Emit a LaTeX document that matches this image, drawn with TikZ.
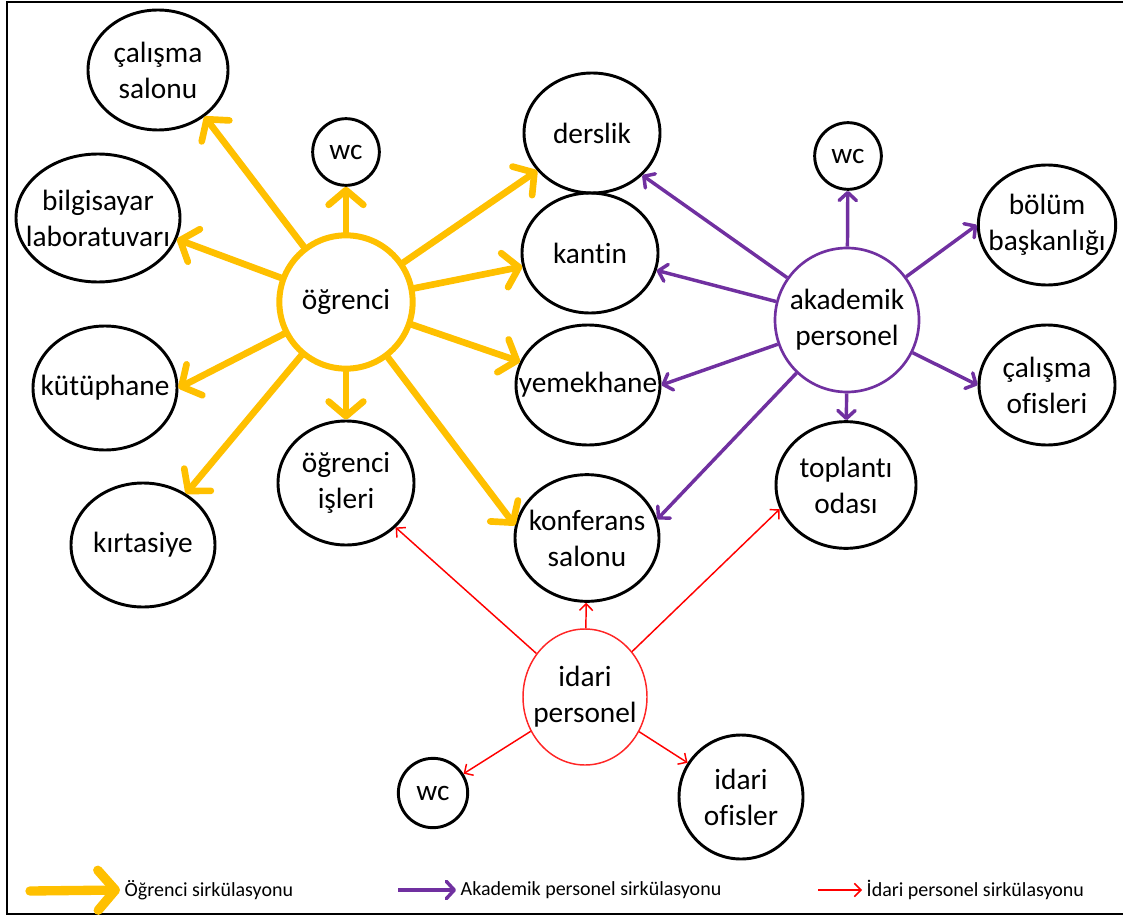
\documentclass[tikz,border=0pt]{standalone}
\usepackage{fontspec}
\setmainfont{Carlito}[Ligatures=NoCommon]
\usepackage{xcolor}
\usepackage{tikz}
\usetikzlibrary{shapes.geometric, arrows.meta, calc}
\definecolor{ogryellow}{RGB}{255,192,0}
\definecolor{akpurple}{RGB}{112,48,160}
\definecolor{idred}{RGB}{255,0,0}

\begin{document}
\begin{tikzpicture}[x=0.75pt, y=-0.75pt,
  place/.style={draw=black, line width=2.2pt, ellipse, inner sep=-14pt, align=center,
    font=\fontsize{22}{27}\selectfont},
  ogrflow/.style={draw=ogryellow, line width=5pt, line cap=round,
    -{Straight Barb[length=11pt, width=26pt, round]}},
  akflow/.style={draw=akpurple, line width=2.6pt,
    -{Straight Barb[length=6pt, width=13pt, round]}},
  idflow/.style={draw=idred, line width=1.1pt,
    -{Straight Barb[length=5pt, width=10pt]}},
  legtext/.style={right, font=\fontsize{15}{17}\selectfont}]
\useasboundingbox (0,0) rectangle (1123,916);
\draw[line width=1.5pt] (1124,2) -- (7,2) -- (7,914) -- (1124,914);

% student side
\node[place, minimum width=105pt, minimum height=90pt] (cs) at (158,70) {çalışma\\salonu};
\node[place, minimum width=50pt, minimum height=50pt] (wc1) at (346,152) {wc};
\node[place, minimum width=123pt, minimum height=96pt] (bilg) at (98,218) {bilgisayar\\laboratuvarı};
\node[place, draw=ogryellow, line width=4.5pt, minimum width=100pt, minimum height=100pt] (ogr) at (346,302) {öğrenci};
\node[place, minimum width=108pt, minimum height=93pt] (kut) at (105,388) {kütüphane};
\node[place, minimum width=108pt, minimum height=93pt] (kirt) at (143,545) {kırtasiye};
\node[place, minimum width=102pt, minimum height=93pt] (ois) at (346,483) {öğrenci\\işleri};

% shared rooms
\node[place, minimum width=102pt, minimum height=90pt] (ders) at (592,133) {derslik};
\node[place, minimum width=102pt, minimum height=90pt] (kant) at (590,253) {kantin};
\node[place, minimum width=108pt, minimum height=90pt] (yem) at (588,385) {yemekhane};
\node[place, minimum width=108pt, minimum height=95pt] (konf) at (587,538) {konferans\\salonu};

% academic side
\node[place, minimum width=50pt, minimum height=50pt] (wc2) at (848,156) {wc};
\node[place, minimum width=103pt, minimum height=90pt] (bolum) at (1047,225) {bölüm\\başkanlığı};
\node[place, draw=akpurple, line width=2pt, minimum width=108pt, minimum height=108pt] (akad) at (847,320) {akademik\\personel};
\node[place, minimum width=102pt, minimum height=90pt] (ofis) at (1047,385) {çalışma\\ofisleri};
\node[place, minimum width=105pt, minimum height=95pt] (topl) at (846,485) {toplantı\\odası};

% administrative side
\node[place, draw=idred!85, line width=1.1pt, minimum width=93pt, minimum height=102pt] (idari) at (585,697) {idari\\personel};
\node[place, minimum width=52pt, minimum height=52pt] (wc3) at (433,793) {wc};
\node[place, minimum width=93pt, minimum height=93pt] (iofis) at (741,797) {idari\\ofisler};

% student flows
\draw[ogrflow] (ogr) -- (cs.-45);
\draw[ogrflow] (ogr) -- (wc1);
\draw[ogrflow] (ogr) -- (bilg.-15);
\draw[ogrflow] (ogr) -- (kut.east);
\draw[ogrflow] (ogr) -- (kirt);
\draw[ogrflow] (ogr) -- (ois);
\draw[ogrflow] (ogr) -- (ders);
\draw[ogrflow] (ogr) -- (kant);
\draw[ogrflow] (ogr) -- (yem);
\draw[ogrflow] (ogr) -- (konf.170);

% academic flows
\draw[akflow] (akad) -- (ders.-40);
\draw[akflow] (akad) -- (kant);
\draw[akflow] (akad) -- (yem.east);
\draw[akflow] (akad) -- (konf.15);
\draw[akflow] (akad) -- (wc2);
\draw[akflow] (akad) -- (bolum.west);
\draw[akflow] (akad) -- (ofis.west);
\draw[akflow] (akad) -- (topl);

% administrative flows
\draw[idflow] (idari) -- (ois);
\draw[idflow] (idari) -- (konf);
\draw[idflow] (idari) -- (topl.200);
\draw[idflow] (idari) -- (wc3);
\draw[idflow] (idari) -- (iofis);

% legend
\coordinate (l1) at (30,891);
\node[legtext] (t1) at (120,890) {Öğrenci sirkülasyonu};
\draw[ogrflow, line width=7pt, -{Straight Barb[length=13pt, width=30pt, round]}] (l1) -- (t1.west);
\coordinate (l2) at (398,890);
\node[legtext] (t2) at (456,890) {Akademik personel sirkülasyonu};
\draw[akflow] (l2) -- (t2.west);
\coordinate (l3) at (818,890);
\node[legtext] (t3) at (862,890) {İdari personel sirkülasyonu};
\draw[idflow] (l3) -- (t3.west);
\end{tikzpicture}
\end{document}
